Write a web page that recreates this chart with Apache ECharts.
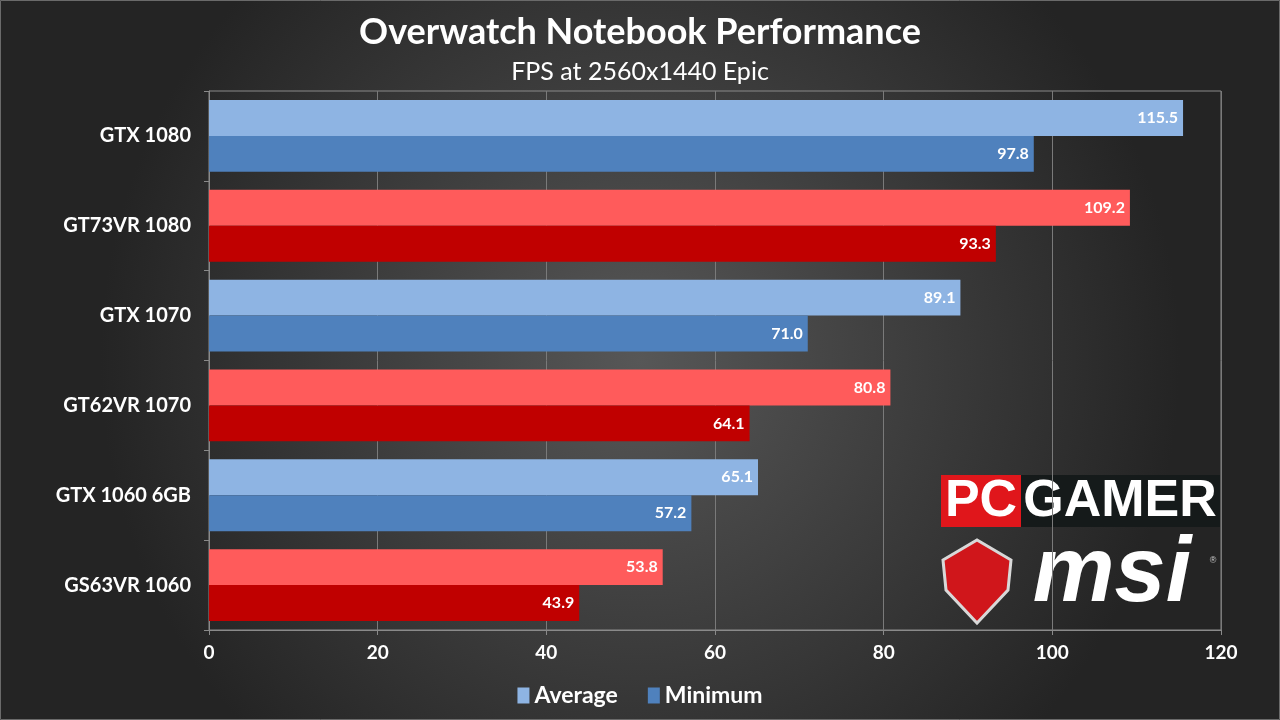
<!DOCTYPE html>
<html><head><meta charset="utf-8">
<script src="https://cdn.jsdelivr.net/npm/echarts@6/dist/echarts.min.js"></script>
<style>html,body{margin:0;padding:0;background:#333}#c{width:1280px;height:720px}</style>
</head><body><div id="c"></div>
<script>
const categories = ['GTX 1080','GT73VR 1080','GTX 1070','GT62VR 1070','GTX 1060 6GB','GS63VR 1060'];
const averageFps = [115.5, 109.2, 89.1, 80.8, 65.1, 53.8];
const minimumFps = [97.8, 93.3, 71.0, 64.1, 57.2, 43.9];
const isMsiLaptop = [false, true, false, true, false, true];
const xTicks = [0, 20, 40, 60, 80, 100, 120];

const FONT = 'Lato';
const chart = echarts.init(document.getElementById('c'));
const avgColor = (p) => isMsiLaptop[p.dataIndex] ? '#FF5B5B' : '#8EB4E3';
const minColor = (p) => isMsiLaptop[p.dataIndex] ? '#C00000' : '#4F81BD';
const labelCfg = {
  show: true, position: 'insideRight', distance: 5, color: '#fff',
  fontFamily: FONT, fontWeight: 'bold', fontSize: 16,
  formatter: (p) => p.value.toFixed(1)
};
chart.setOption({
  backgroundColor: {
    type: 'radial', x: 0.5, y: 0.5, r: 0.75,
    colorStops: [{offset: 0, color: '#575757'}, {offset: 1, color: '#242424'}]
  },
  title: [
    {text: 'Overwatch Notebook Performance', left: 'center', top: 9,
     textStyle: {color: '#fff', fontFamily: FONT, fontWeight: 'bold', fontSize: 36}},
    {text: 'FPS at 2560x1440 Epic', left: 'center', top: 54,
     textStyle: {color: '#fff', fontFamily: FONT, fontWeight: 'normal', fontSize: 25}}
  ],
  legend: {
    bottom: 8, left: 'center', itemWidth: 12, itemHeight: 16, itemGap: 30,
    icon: 'rect',
    textStyle: {color: '#fff', fontFamily: FONT, fontWeight: 'bold', fontSize: 23},
    data: [{name: 'Average', itemStyle: {color: '#8EB4E3'}}, {name: 'Minimum', itemStyle: {color: '#4F81BD'}}]
  },
  grid: {left: 209, right: 59, top: 91, bottom: 90, show: true, borderColor: '#8a8a8a', borderWidth: 1},
  xAxis: {
    type: 'value', min: 0, max: 120, interval: 20,
    axisLine: {show: true, lineStyle: {color: '#8a8a8a'}},
    axisTick: {show: true, length: 5, inside: false, lineStyle: {color: '#8a8a8a'}},
    splitLine: {show: true, lineStyle: {color: '#7a7a7a', width: 1}},
    axisLabel: {color: '#fff', fontFamily: FONT, fontWeight: 'bold', fontSize: 19, margin: 13,
      formatter: (v) => xTicks.includes(v) ? String(v) : ''}
  },
  yAxis: {
    type: 'category', data: categories, inverse: true,
    axisLine: {show: true, lineStyle: {color: '#8a8a8a'}},
    axisTick: {show: true, length: 5, lineStyle: {color: '#8a8a8a'}},
    axisLabel: {color: '#fff', fontFamily: FONT, fontWeight: 'bold', fontSize: 20, margin: 18}
  },
  series: [
    {name: 'Average', type: 'bar', data: averageFps, barGap: '0%', barCategoryGap: '20%',
     itemStyle: {color: avgColor}, label: labelCfg},
    {name: 'Minimum', type: 'bar', data: minimumFps, barGap: '0%', barCategoryGap: '20%',
     itemStyle: {color: minColor}, label: labelCfg}
  ],
  graphic: [
    {type: 'rect', shape: {x: 0.5, y: 0.5, width: 1279, height: 719}, style: {fill: 'none', stroke: '#6a6a6a', lineWidth: 1}, silent: true},
    {type: 'rect', shape: {x: 941, y: 475, width: 80, height: 52}, style: {fill: '#E0161B'}},
    {type: 'rect', shape: {x: 1021, y: 475, width: 199, height: 52}, style: {fill: '#151a1a'}},
    {type: 'text', x: 981, y: 502, style: {text: 'PC', fill: '#fff', font: '900 52px "Liberation Sans Narrow", "Liberation Sans", sans-serif', align: 'center', verticalAlign: 'middle'}},
    {type: 'text', x: 1120, y: 502, style: {text: 'GAMER', fill: '#fff', font: '900 52px "Liberation Sans Narrow", "Liberation Sans", sans-serif', align: 'center', verticalAlign: 'middle'}},
    {type: 'polygon', shape: {points: [[943,560],[977,540],[1011,560],[1008,590],[977,623],[946,590]]},
     style: {fill: '#D0161B', stroke: '#d8d8d8', lineWidth: 3}},
    {type: 'text', x: 1112, y: 576, style: {text: 'msi', fill: '#fff', font: 'italic 900 92px "Liberation Sans", sans-serif', align: 'center', verticalAlign: 'middle'}},
    {type: 'text', x: 1213, y: 561, style: {text: '®', fill: '#ccc', font: '9px sans-serif', align: 'center', verticalAlign: 'middle'}}
  ]
});
</script>
</body></html>
